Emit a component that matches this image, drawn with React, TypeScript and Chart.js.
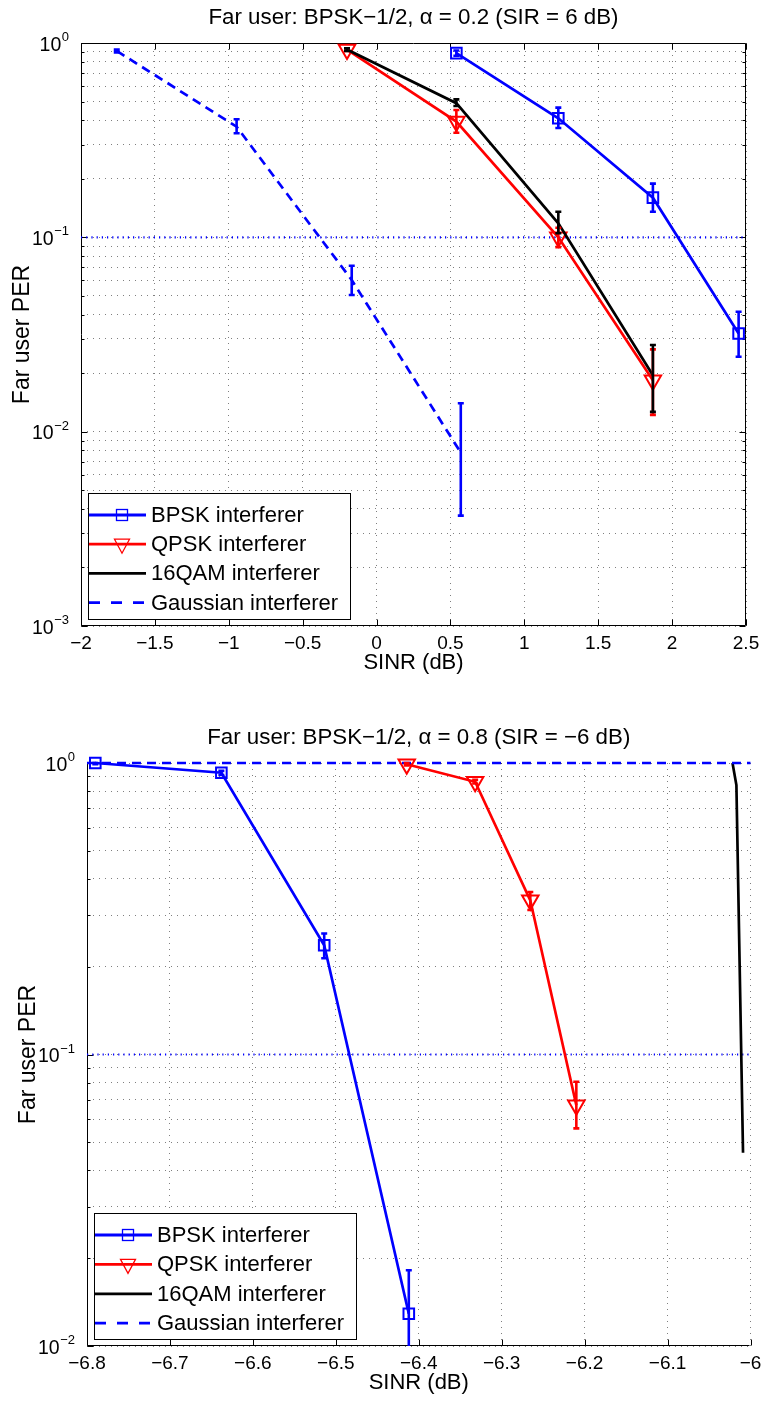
import React, { useEffect, useRef } from 'react';
import { Chart, registerables } from 'chart.js';

Chart.register(...registerables);

const FONT = '"Liberation Sans", Arial, Helvetica, sans-serif';
const BLUE = '#0000ff';
const RED = '#ff0000';
const BLACK = '#000000';
const GRID = 'rgba(0,0,0,0.5)';

const xTitleText = 'SINR (dB)';
const yTitleText = 'Far user PER';
const legendLabels = ['BPSK interferer', 'QPSK interferer', '16QAM interferer', 'Gaussian interferer'];

// ===== Panel 1: alpha = 0.2 =====
const p1Title = 'Far user: BPSK\u22121/2, \u03b1 = 0.2 (SIR = 6 dB)';
const p1XTicks = [-2, -1.5, -1, -0.5, 0, 0.5, 1, 1.5, 2, 2.5];
const p1YTicks = [0.001, 0.002, 0.003, 0.004, 0.005, 0.006, 0.007, 0.008, 0.009,
  0.01, 0.02, 0.03, 0.04, 0.05, 0.06, 0.07, 0.08, 0.09,
  0.1, 0.2, 0.3, 0.4, 0.5, 0.6, 0.7, 0.8, 0.9, 1];
const p1YDecades = [0.001, 0.01, 0.1, 1];
const p1YExponents = ['\u22123', '\u22122', '\u22121', '0'];

const p1BpskX = [0.54, 1.23, 1.87, 2.45];
const p1BpskY = [0.887, 0.41, 0.16, 0.032];
const p1BpskLo = [0.86, 0.365, 0.1355, 0.0243];
const p1BpskHi = [0.915, 0.465, 0.189, 0.0414];

const p1QpskX = [-0.2, 0.54, 1.23, 1.87];
const p1QpskY = [0.925, 0.394, 0.1, 0.0184];
const p1QpskLo = [0.91, 0.345, 0.089, 0.0122];
const p1QpskHi = [0.94, 0.452, 0.112, 0.0265];

const p1QamX = [-0.2, 0.54, 1.23, 1.87];
const p1QamY = [0.925, 0.49, 0.118, 0.0195];
const p1QamLo = [0.91, 0.474, 0.105, 0.01265];
const p1QamHi = [0.94, 0.513, 0.1355, 0.0279];

const p1GaussX = [-1.758, -0.947, -0.168, 0.57];
const p1GaussY = [0.91, 0.371, 0.0603, 0.0078];
const p1GaussLo = [0.895, 0.343, 0.0505, 0.0037];
const p1GaussHi = [0.925, 0.405, 0.0714, 0.014];

const p1RefX = [-2, 2.5];
const p1RefY = [0.1, 0.1];

// ===== Panel 2: alpha = 0.8 =====
const p2Title = 'Far user: BPSK\u22121/2, \u03b1 = 0.8 (SIR = \u22126 dB)';
const p2XTicks = [-6.8, -6.7, -6.6, -6.5, -6.4, -6.3, -6.2, -6.1, -6];
const p2YTicks = [0.01, 0.02, 0.03, 0.04, 0.05, 0.06, 0.07, 0.08, 0.09,
  0.1, 0.2, 0.3, 0.4, 0.5, 0.6, 0.7, 0.8, 0.9, 1];
const p2YDecades = [0.01, 0.1, 1];
const p2YExponents = ['\u22122', '\u22121', '0'];

const p2BpskX = [-6.79, -6.638, -6.514, -6.412];
const p2BpskY = [1.0, 0.926, 0.237, 0.0129];
const p2BpskLo = [0.99, 0.91, 0.214, 0.008];
const p2BpskHi = [1.0, 0.94, 0.26, 0.0182];

const p2QpskX = [-6.4145, -6.332, -6.2655, -6.21];
const p2QpskY = [0.99, 0.862, 0.338, 0.067];
const p2QpskLo = [0.98, 0.85, 0.313, 0.0558];
const p2QpskHi = [1.0, 0.875, 0.361, 0.0806];

const p2QamX = [-6.0217, -6.017, -6.009];
const p2QamY = [1.0, 0.84, 0.046];

const p2GaussX = [-6.8, -6.0];
const p2GaussY = [1.0, 1.0];

const p2RefX = [-6.8, -6.0];
const p2RefY = [0.1, 0.1];

type Marker = 'square' | 'triangle' | null;
type Series = {
  label: string; xs: number[]; ys: number[]; lo?: number[]; hi?: number[];
  color: string; dash: number[]; legendDash: number[]; marker: Marker;
};
type Area = { left: number; top: number; right: number; bottom: number };
type PanelSpec = {
  title: string; xMin: number; xMax: number; xTicks: number[];
  yMin: number; yMax: number; yTicks: number[]; yDecades: number[]; yExps: string[];
  series: Series[]; refX: number[]; refY: number[]; box: boolean; area: Area;
  legendRow: number;
};

const panel1: PanelSpec = {
  title: p1Title, xMin: -2, xMax: 2.5, xTicks: p1XTicks,
  yMin: 0.001, yMax: 1, yTicks: p1YTicks, yDecades: p1YDecades, yExps: p1YExponents,
  series: [
    { label: legendLabels[0], xs: p1BpskX, ys: p1BpskY, lo: p1BpskLo, hi: p1BpskHi, color: BLUE, dash: [], legendDash: [], marker: 'square' },
    { label: legendLabels[1], xs: p1QpskX, ys: p1QpskY, lo: p1QpskLo, hi: p1QpskHi, color: RED, dash: [], legendDash: [], marker: 'triangle' },
    { label: legendLabels[2], xs: p1QamX, ys: p1QamY, lo: p1QamLo, hi: p1QamHi, color: BLACK, dash: [], legendDash: [], marker: null },
    { label: legendLabels[3], xs: p1GaussX, ys: p1GaussY, lo: p1GaussLo, hi: p1GaussHi, color: BLUE, dash: [9, 6], legendDash: [11, 11], marker: null },
  ],
  refX: p1RefX, refY: p1RefY, box: true,
  area: { left: 81, top: 43, right: 746, bottom: 626 },
  legendRow: 29.2,
};

const panel2: PanelSpec = {
  title: p2Title, xMin: -6.8, xMax: -6, xTicks: p2XTicks,
  yMin: 0.01, yMax: 1, yTicks: p2YTicks, yDecades: p2YDecades, yExps: p2YExponents,
  series: [
    { label: legendLabels[0], xs: p2BpskX, ys: p2BpskY, lo: p2BpskLo, hi: p2BpskHi, color: BLUE, dash: [], legendDash: [], marker: 'square' },
    { label: legendLabels[1], xs: p2QpskX, ys: p2QpskY, lo: p2QpskLo, hi: p2QpskHi, color: RED, dash: [], legendDash: [], marker: 'triangle' },
    { label: legendLabels[2], xs: p2QamX, ys: p2QamY, color: BLACK, dash: [], legendDash: [], marker: null },
    { label: legendLabels[3], xs: p2GaussX, ys: p2GaussY, color: BLUE, dash: [9, 6], legendDash: [11, 11], marker: null },
  ],
  refX: p2RefX, refY: p2RefY, box: false,
  area: { left: 87, top: 63, right: 751, bottom: 646 },
  legendRow: 29.4,
};

const fmtTick = (v: number) => {
  const s = String(Math.round(v * 10) / 10);
  return s.replace('-', '\u2212');
};

function legendMarker(ctx: CanvasRenderingContext2D, m: Marker, cx: number, cy: number, color: string) {
  ctx.save();
  ctx.setLineDash([]);
  ctx.strokeStyle = color;
  ctx.lineWidth = 1.3;
  if (m === 'square') {
    ctx.strokeRect(cx - 5.5, cy - 5.5, 11, 11);
  } else if (m === 'triangle') {
    ctx.beginPath();
    ctx.moveTo(cx - 7.5, cy - 5);
    ctx.lineTo(cx + 7.5, cy - 5);
    ctx.lineTo(cx, cy + 9);
    ctx.closePath();
    ctx.stroke();
  }
  ctx.restore();
}

function makeDecor(spec: PanelSpec) {
  return {
    id: 'decor',
    beforeDatasetsDraw(chart: any) {
      const { ctx, chartArea } = chart;
      const { left, top, right, bottom } = chartArea;
      const xs = chart.scales.x;
      const ys = chart.scales.y;
      ctx.save();
      ctx.strokeStyle = '#000';
      ctx.lineWidth = 1;
      ctx.setLineDash([]);
      const L = Math.floor(left) + 0.5;
      const R = Math.floor(right) - 0.5;
      const T = Math.floor(top) + 0.5;
      const B = Math.floor(bottom) - 0.5;
      ctx.beginPath();
      ctx.moveTo(L, T);
      ctx.lineTo(L, B);
      ctx.lineTo(R, B);
      if (spec.box) {
        ctx.lineTo(R, T);
        ctx.lineTo(L, T);
      }
      spec.xTicks.forEach((v) => {
        const px = Math.round(xs.getPixelForValue(v)) + 0.5;
        ctx.moveTo(px, B);
        ctx.lineTo(px, B - 6);
        if (spec.box) {
          ctx.moveTo(px, T);
          ctx.lineTo(px, T + 6);
        }
      });
      spec.yTicks.forEach((v) => {
        const py = Math.round(ys.getPixelForValue(v)) + 0.5;
        const len = spec.yDecades.includes(v) ? 6 : 3;
        ctx.moveTo(L, py);
        ctx.lineTo(L + len, py);
        if (spec.box) {
          ctx.moveTo(R, py);
          ctx.lineTo(R - len, py);
        }
      });
      ctx.stroke();
      ctx.restore();
    },
    afterDatasetsDraw(chart: any) {
      const { ctx, chartArea } = chart;
      const xs = chart.scales.x;
      const ys = chart.scales.y;
      ctx.save();
      ctx.beginPath();
      ctx.rect(chartArea.left - 5, chartArea.top - 3, chartArea.right - chartArea.left + 10, chartArea.bottom - chartArea.top + 3);
      ctx.clip();
      ctx.setLineDash([]);
      ctx.lineWidth = 2.6;
      ctx.lineCap = 'butt';
      spec.series.forEach((s) => {
        if (!s.lo || !s.hi) return;
        ctx.strokeStyle = s.color;
        ctx.beginPath();
        s.xs.forEach((x, i) => {
          const px = xs.getPixelForValue(x);
          const y1 = ys.getPixelForValue(s.hi![i]);
          const y2 = ys.getPixelForValue(s.lo![i]);
          ctx.moveTo(px, y1);
          ctx.lineTo(px, y2);
          ctx.moveTo(px - 3, y1);
          ctx.lineTo(px + 3, y1);
          ctx.moveTo(px - 3, y2);
          ctx.lineTo(px + 3, y2);
        });
        ctx.stroke();
      });
      ctx.restore();
    },
    afterDraw(chart: any) {
      const { ctx, chartArea } = chart;
      const { left, top, right, bottom } = chartArea;
      const ys = chart.scales.y;
      ctx.save();
      ctx.fillStyle = '#000';
      spec.yDecades.forEach((v, i) => {
        const py = ys.getPixelForValue(v);
        const exp = spec.yExps[i];
        ctx.font = `13px ${FONT}`;
        const ew = ctx.measureText(exp).width;
        const edge = left - 12;
        ctx.textAlign = 'left';
        ctx.textBaseline = 'alphabetic';
        ctx.fillText(exp, edge - ew, py - 2);
        ctx.font = `19.5px ${FONT}`;
        ctx.textAlign = 'right';
        ctx.fillText('10', edge - ew - 0.5, py + 7.5);
      });
      const cx = (left + right) / 2;
      ctx.textAlign = 'center';
      ctx.textBaseline = 'middle';
      ctx.font = `22.3px ${FONT}`;
      ctx.fillText(spec.title, cx, top - 25.5);
      ctx.font = `22px ${FONT}`;
      ctx.fillText(xTitleText, cx, bottom + 37);
      ctx.save();
      ctx.translate(left - 58, (top + bottom) / 2);
      ctx.rotate(-Math.PI / 2);
      ctx.font = `23px ${FONT}`;
      ctx.fillText(yTitleText, 0, 0);
      ctx.restore();
      const bw = 262;
      const bh = 126;
      const bx = Math.round(left + 7);
      const by = Math.round(bottom - 7.5 - bh);
      ctx.fillStyle = '#fff';
      ctx.fillRect(bx, by, bw, bh);
      ctx.strokeStyle = '#000';
      ctx.lineWidth = 1;
      ctx.setLineDash([]);
      ctx.strokeRect(bx + 0.5, by + 0.5, bw, bh);
      spec.series.forEach((s, i) => {
        const cy = by + 22 + i * spec.legendRow;
        ctx.strokeStyle = s.color;
        ctx.lineWidth = 2.8;
        ctx.setLineDash(s.legendDash);
        ctx.beginPath();
        ctx.moveTo(bx + 1, cy);
        ctx.lineTo(bx + 58, cy);
        ctx.stroke();
        legendMarker(ctx, s.marker, bx + 34, cy, s.color);
        ctx.fillStyle = '#000';
        ctx.font = `22px ${FONT}`;
        ctx.textAlign = 'left';
        ctx.textBaseline = 'middle';
        ctx.fillText(s.label, bx + 63, cy + 1);
      });
      ctx.restore();
    },
  };
}

function buildConfig(spec: PanelSpec, width: number, height: number): any {
  const n = spec.series.length;
  const datasets: any[] = spec.series.map((s, i) => ({
    label: s.label,
    data: s.xs.map((x, j) => ({ x, y: s.ys[j] })),
    borderColor: s.color,
    borderWidth: 2.7,
    borderDash: s.dash,
    fill: false,
    tension: 0,
    clip: false,
    order: n - i,
    pointStyle: s.marker === 'square' ? 'rect' : s.marker === 'triangle' ? 'triangle' : 'circle',
    pointRotation: s.marker === 'triangle' ? 180 : 0,
    pointRadius: s.marker === 'square' ? 7.5 : s.marker === 'triangle' ? 9.5 : 0,
    pointBorderWidth: 2,
    pointBorderColor: s.color,
    pointBackgroundColor: 'rgba(0,0,0,0)',
    pointHoverRadius: 0,
  }));
  datasets.push({
    label: 'PER = 0.1',
    data: spec.refX.map((x, j) => ({ x, y: spec.refY[j] })),
    borderColor: BLUE,
    borderWidth: 2.2,
    borderDash: [1.2, 4],
    pointRadius: 0,
    fill: false,
    order: n + 1,
  });
  return {
    type: 'line',
    data: { datasets },
    options: {
      responsive: false,
      animation: false,
      devicePixelRatio: 1,
      events: [],
      layout: { padding: { left: 0, top: spec.area.top, right: width - spec.area.right, bottom: 0 } },
      plugins: { legend: { display: false }, tooltip: { enabled: false }, title: { display: false } },
      scales: {
        x: {
          type: 'linear',
          min: spec.xMin,
          max: spec.xMax,
          afterBuildTicks: (s: any) => { s.ticks = spec.xTicks.map((v) => ({ value: v })); },
          afterFit: (s: any) => {
            s.height = height - spec.area.bottom;
            s.paddingLeft = 0;
            s.paddingRight = 0;
          },
          grid: { color: GRID, lineWidth: 1, drawTicks: false },
          border: { display: false, dash: [1, 5] },
          ticks: {
            callback: (v: any) => fmtTick(Number(v)),
            font: { family: FONT, size: 19 },
            color: '#000',
            padding: 6,
            maxRotation: 0,
            autoSkip: false,
          },
        },
        y: {
          type: 'logarithmic',
          min: spec.yMin,
          max: spec.yMax,
          afterBuildTicks: (s: any) => { s.ticks = spec.yTicks.map((v) => ({ value: v })); },
          afterFit: (s: any) => {
            s.width = spec.area.left;
            s.paddingTop = 0;
            s.paddingBottom = 0;
          },
          grid: { color: GRID, lineWidth: 1, drawTicks: false },
          border: { display: false, dash: [1, 5] },
          ticks: { display: false },
        },
      },
    },
    plugins: [makeDecor(spec)],
  };
}

function Panel({ spec, width, height }: { spec: PanelSpec; width: number; height: number }) {
  const ref = useRef<HTMLCanvasElement>(null);
  useEffect(() => {
    const chart = new Chart(ref.current as HTMLCanvasElement, buildConfig(spec, width, height));
    return () => chart.destroy();
  }, [spec, width, height]);
  return <canvas ref={ref} width={width} height={height} style={{ display: 'block', width, height }} />;
}

export default function App() {
  return (
    <div style={{ position: 'absolute', left: 0, top: 0, width: 762, height: 1401, background: '#fff' }}>
      <Panel spec={panel1} width={762} height={700} />
      <Panel spec={panel2} width={762} height={701} />
    </div>
  );
}
